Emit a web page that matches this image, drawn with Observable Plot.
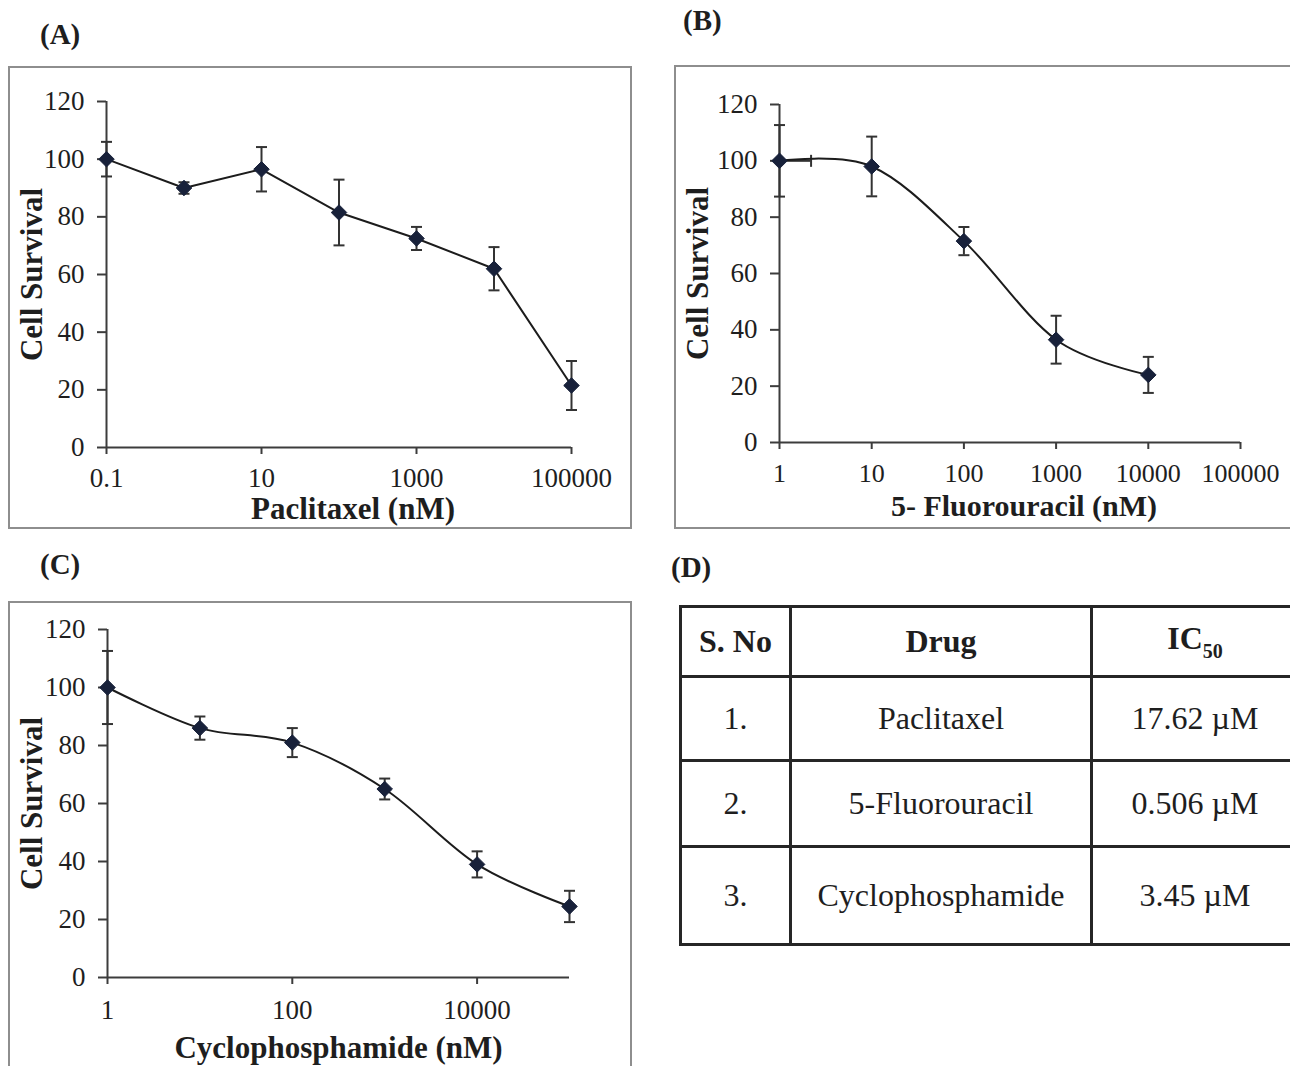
<!DOCTYPE html>
<html>
<head>
<meta charset="utf-8">
<script src="https://cdn.jsdelivr.net/npm/d3@7"></script>
<script src="https://cdn.jsdelivr.net/npm/@observablehq/plot@0.6"></script>
<style>
  html, body { margin: 0; padding: 0; background: #fff; width: 1290px; height: 1066px; overflow: hidden; }
  #page { position: relative; width: 1290px; height: 1066px; overflow: hidden; font-family: "Liberation Serif", "Times New Roman", serif; color: #1e1e1e; }
  .frame { position: absolute; border: 2px solid #8e8e8e; box-sizing: border-box; }
  .plot { position: absolute; }
  .panel { position: absolute; font-weight: bold; font-size: 29px; line-height: 32px; }
  #tbl { position: absolute; left: 679px; top: 605px; width: 700px; height: 400px; }
  table.ic { border-collapse: collapse; font-size: 32px; table-layout: fixed; width: 621px; }
  table.ic td { border: 3px solid #262626; text-align: center; padding: 0; white-space: nowrap; }
  table.ic tr.h td { font-weight: bold; }
  sub { font-size: 20px; vertical-align: -9px; }
</style>
</head>
<body>
<div id="page">
  <div class="panel" style="left:40px; top:18px;">(A)</div>
  <div class="panel" style="left:683px; top:4px;">(B)</div>
  <div class="panel" style="left:40px; top:548px;">(C)</div>
  <div class="panel" style="left:671px; top:551px;">(D)</div>
  <div class="frame" style="left:8px; top:66px; width:624px; height:463px;"></div>
  <div class="frame" style="left:674px; top:65px; width:700px; height:464px;"></div>
  <div class="frame" style="left:8px; top:601px; width:624px; height:500px;"></div>
  <div class="plot" id="pA" style="left:10px; top:68px;"></div>
  <div class="plot" id="pB" style="left:676px; top:67px;"></div>
  <div class="plot" id="pC" style="left:10px; top:603px;"></div>
  <div id="tbl"></div>
</div>
<script>
// ---------- Data ----------
const yTicks = [0, 20, 40, 60, 80, 100, 120];

// (A) Paclitaxel
const concA = [0.1, 1, 10, 100, 1000, 10000, 100000];
const survA = [100, 90, 96.5, 81.5, 72.5, 62, 21.5];
const errA  = [6, 2, 7.7, 11.4, 4, 7.5, 8.5];
const xTicksA = [0.1, 10, 1000, 100000];

// (B) 5-Fluorouracil
const concB = [1, 10, 100, 1000, 10000];
const survB = [100, 98, 71.5, 36.5, 24];
const errB  = [12.7, 10.6, 5, 8.5, 6.4];
const xErrB = [1.2, 0, 0, 0, 0];
const xTicksB = [1, 10, 100, 1000, 10000, 100000];

// (C) Cyclophosphamide
const concC = [1, 10, 100, 1000, 10000, 100000];
const survC = [100, 86, 81, 65, 39, 24.5];
const errC  = [12.6, 4, 5, 3.6, 4.5, 5.4];
const xTicksC = [1, 100, 10000];

// (D) IC50 table
const tableHead = ["S. No", "Drug", "IC50"];
const tableNo = ["1.", "2.", "3."];
const tableDrug = ["Paclitaxel", "5-Fluorouracil", "Cyclophosphamide"];
const tableIC50 = ["17.62 µM", "0.506 µM", "3.45 µM"];

// ---------- Helpers ----------
const hCap = { draw(ctx, size) { const w = Math.sqrt(size / Math.PI); ctx.moveTo(-w, 0); ctx.lineTo(w, 0); } };
const vCap = { draw(ctx, size) { const w = Math.sqrt(size / Math.PI); ctx.moveTo(0, -w); ctx.lineTo(0, w); } };

function rows(conc, surv, err, xerr) {
  return conc.map((x, i) => ({ x, y: surv[i], e: err[i], xe: xerr ? xerr[i] : 0 }));
}

const AX = "#3c3c3c";
const LINE = "#1c1c1c";
const PT = "#18213a";
const ERR = "#333";

function panel(o) {
  const data = o.data;
  const xerr = data.filter(d => d.xe > 0);
  return Plot.plot({
    width: o.width, height: o.height,
    marginLeft: o.ml, marginRight: o.mr, marginTop: o.mt, marginBottom: o.mb,
    style: { fontFamily: "'Liberation Serif', 'Times New Roman', serif", color: "#1e1e1e", background: "transparent", overflow: "visible" },
    x: { type: "log", domain: o.domainX, label: null },
    y: { domain: [0, 120], label: null },
    marks: [
      Plot.ruleY([0], { stroke: AX, strokeWidth: 2 }),
      Plot.ruleX([o.domainX[0]], { stroke: AX, strokeWidth: 2 }),
      Plot.axisX({ ticks: o.ticksX, tickFormat: d => String(d), tickSize: 7, tickPadding: o.xPad, fontSize: o.xFont, stroke: AX, strokeWidth: 2, label: null }),
      Plot.axisY({ ticks: yTicks, tickSize: 9, tickPadding: 13, fontSize: 27, stroke: AX, strokeWidth: 2, label: null }),
      Plot.ruleX(data, { x: "x", y1: d => d.y - d.e, y2: d => d.y + d.e, stroke: ERR, strokeWidth: 2 }),
      Plot.dot(data, { x: "x", y: d => d.y + d.e, symbol: hCap, r: 5.5, stroke: ERR, fill: "none", strokeWidth: 2 }),
      Plot.dot(data, { x: "x", y: d => d.y - d.e, symbol: hCap, r: 5.5, stroke: ERR, fill: "none", strokeWidth: 2 }),
      Plot.ruleY(xerr, { y: "y", x1: "x", x2: d => d.x + d.xe, stroke: ERR, strokeWidth: 2 }),
      Plot.dot(xerr, { x: d => d.x + d.xe, y: "y", symbol: vCap, r: 6, stroke: ERR, fill: "none", strokeWidth: 2 }),
      Plot.line(data, { x: "x", y: "y", curve: o.curve, stroke: LINE, strokeWidth: 2 }),
      Plot.dot(data, { x: "x", y: "y", symbol: "diamond2", r: 7, fill: PT, stroke: PT, strokeWidth: 1 }),
      Plot.text([o.xLabel], { frameAnchor: "bottom", lineAnchor: "middle", textAnchor: "middle", text: d => d, dx: o.xdx, dy: o.xdy, fontSize: o.tFont, fontWeight: "bold", fill: "#1e1e1e" }),
      Plot.text(["Cell Survival"], { frameAnchor: "left", lineAnchor: "middle", textAnchor: "middle", text: d => d, rotate: -90, dx: o.ydx, fontSize: 31, fontWeight: "bold", fill: "#1e1e1e" })
    ]
  });
}

document.getElementById("pA").append(panel({
  data: rows(concA, survA, errA), domainX: [0.1, 100000], ticksX: xTicksA,
  width: 620, height: 458, ml: 96, mr: 59, mt: 33, mb: 79, xPad: 13, xFont: 27, tFont: 31,
  curve: "linear", xLabel: "Paclitaxel (nM)", xdx: 14, xdy: 62, ydx: -74
}));

document.getElementById("pB").append(panel({
  data: rows(concB, survB, errB, xErrB), domainX: [1, 100000], ticksX: xTicksB,
  width: 614, height: 460, ml: 103, mr: 50, mt: 37, mb: 85, xPad: 14, xFont: 26, tFont: 30,
  curve: "cardinal", xLabel: "5- Fluorouracil (nM)", xdx: 14, xdy: 64, ydx: -81
}));

document.getElementById("pC").append(panel({
  data: rows(concC, survC, errC), domainX: [1, 100000], ticksX: xTicksC,
  width: 620, height: 463, ml: 97, mr: 61, mt: 26, mb: 89, xPad: 15, xFont: 27, tFont: 31,
  curve: "cardinal", xLabel: "Cyclophosphamide (nM)", xdx: 0, xdy: 71, ydx: -75
}));

// ---------- Table ----------
const colW = [107, 298, 204];
const rowH = [70, 84, 86, 98];
const t = document.createElement("table");
t.className = "ic";
const head = document.createElement("tr");
head.className = "h";
head.style.height = rowH[0] + "px";
tableHead.forEach((h, j) => {
  const td = document.createElement("td");
  td.style.width = colW[j] + "px";
  if (h === "IC50") td.innerHTML = "IC<sub>50</sub>";
  else td.textContent = h;
  head.append(td);
});
t.append(head);
tableNo.forEach((n, i) => {
  const tr = document.createElement("tr");
  tr.style.height = rowH[i + 1] + "px";
  [n, tableDrug[i], tableIC50[i]].forEach(v => {
    const td = document.createElement("td");
    td.textContent = v;
    tr.append(td);
  });
  t.append(tr);
});
document.getElementById("tbl").append(t);
</script>
</body>
</html>
